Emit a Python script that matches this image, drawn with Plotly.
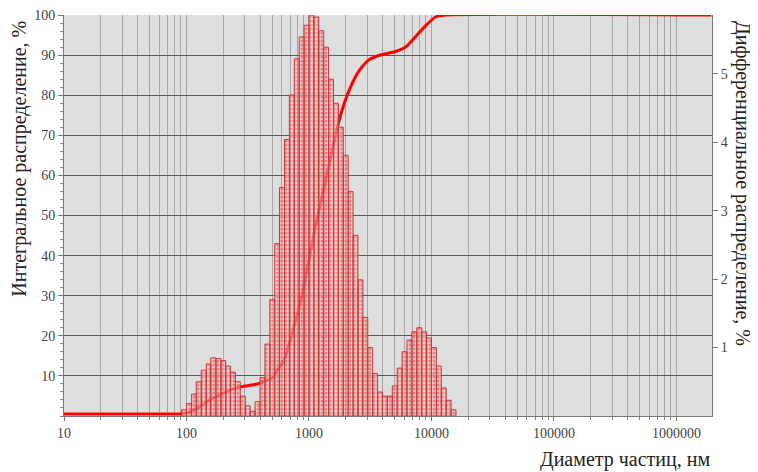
import plotly.graph_objects as go

# bin edges of the size histogram, nm
bin_edges = [91.2, 100, 110, 120, 132, 145, 158, 174, 191, 209, 229, 251, 275, 302, 331,
             363, 398, 437, 479, 525, 575, 631, 692, 759, 832, 912, 1000, 1096, 1202, 1318,
             1445, 1585, 1738, 1905, 2089, 2291, 2512, 2754, 3020, 3311, 3631, 3981, 4365,
             4786, 5248, 5754, 6310, 6918, 7586, 8318, 9120, 10000, 10965, 12023, 13183,
             14454, 15849]
# differential distribution per bin, %
diff_pct = [0.09, 0.18, 0.32, 0.50, 0.67, 0.76, 0.85, 0.84, 0.81, 0.73, 0.64, 0.50, 0.29,
            0.15, 0.07, 0.21, 0.56, 1.05, 1.70, 2.52, 3.34, 4.04, 4.69, 5.22, 5.54, 5.71,
            5.86, 5.83, 5.63, 5.39, 4.92, 4.57, 4.22, 3.81, 3.28, 2.64, 1.99, 1.44, 1.00,
            0.62, 0.35, 0.29, 0.29, 0.44, 0.70, 0.94, 1.11, 1.23, 1.29, 1.23, 1.14, 1.00,
            0.73, 0.41, 0.23, 0.09]
# integral (cumulative) curve
cum_d = [10, 72, 88, 106, 128, 154, 185, 224, 270, 325, 392, 447, 509, 540, 627, 728, 861,
         1000, 1161, 1374, 1754, 2113, 2553, 3076, 3707, 5093, 6152, 7413, 8933, 10789,
         13002, 1930000]
cum_pct = [0.5, 0.5, 0.5, 1.0, 2.3, 4.0, 5.2, 6.4, 7.2, 7.6, 8.1, 8.9, 9.6, 11, 14, 20.5,
           29, 39, 49, 59, 73.5, 81, 86, 88.8, 89.9, 90.9, 92, 94.6, 97.3, 99.5, 100, 100]

x_ticks = [10, 100, 1000, 10000, 100000, 1000000]
y_ticks = [10, 20, 30, 40, 50, 60, 70, 80, 90, 100]
y2_ticks = [1, 2, 3, 4, 5]

FONT = "Liberation Serif, Times New Roman, Tinos, DejaVu Serif, serif"
minor_x = [k * 10 ** d for d in range(1, 7) for k in range(2, 10)]

# bars as closed polygons so each one gets its own outline
bx, by = [], []
for i, h in enumerate(diff_pct):
    l, r = bin_edges[i], bin_edges[i + 1]
    bx += [l, l, r, r, l, None]
    by += [0, h, h, 0, 0, None]

fig = go.Figure()
fig.add_trace(go.Scatter(
    x=bx, y=by, yaxis="y2", mode="lines", fill="toself",
    line=dict(color="#c23a3a", width=1),
    fillcolor="rgba(240,150,150,0.35)",
    fillpattern=dict(shape=".", size=4, solidity=0.5,
                     fgcolor="rgba(205,30,30,0.8)", bgcolor="rgba(250,185,185,0.6)"),
    showlegend=False, hoverinfo="skip"))
fig.add_trace(go.Scatter(
    x=cum_d, y=cum_pct, mode="lines", line=dict(color="#ff0000", width=3, shape="spline",
                                               smoothing=0.6),
    showlegend=False))

# the page body adds an 8px offset, so the figure is 8px smaller than the window
fig.update_layout(
    width=750, height=464,
    margin=dict(l=56, r=46, t=7, b=56, autoexpand=False),
    paper_bgcolor="white", plot_bgcolor="#dedede",
    font=dict(family=FONT, size=14, color="#444"),
    xaxis=dict(type="log", range=[1, 6.29], tickvals=x_ticks,
               ticktext=[str(v) for v in x_ticks], ticklabeloverflow="allow",
               showgrid=True, gridcolor="#a6a6a6", gridwidth=1,
               ticks="outside", ticklen=4, tickcolor="#777",
               minor=dict(tickvals=minor_x, showgrid=True, gridcolor="#a6a6a6",
                          ticks="outside", ticklen=3, tickcolor="#888"),
               showline=True, linecolor="#777", zeroline=False),
    yaxis=dict(range=[0, 100], tickvals=y_ticks, showgrid=True, gridcolor="#5a5a5a",
               gridwidth=1, ticks="outside", ticklen=5, tickcolor="#777",
               ticklabeloverflow="allow",
               minor=dict(dtick=2, ticks="outside", ticklen=3, tickcolor="#888"),
               showline=True, linecolor="#777", zeroline=False),
    yaxis2=dict(range=[0, 5.86], overlaying="y", side="right", tickvals=y2_ticks,
                showgrid=False, ticks="outside", ticklen=5, tickcolor="#777",
                showline=True, linecolor="#777", zeroline=False),
    annotations=[
        dict(text="Интегральное распределение, %", textangle=-90, xref="paper", yref="paper",
             x=-0.07, y=0.99, xanchor="center", yanchor="top", showarrow=False,
             font=dict(family=FONT, size=20, color="#222")),
        dict(text="Дифференциальное распределение, %", textangle=90, xref="paper",
             yref="paper", x=1.047, y=0.99, xanchor="center", yanchor="top",
             showarrow=False, font=dict(family=FONT, size=20, color="#222")),
        dict(text="Диаметр частиц, нм", xref="paper", yref="paper", x=1.0, y=-0.108,
             xanchor="right", yanchor="middle", showarrow=False,
             font=dict(family=FONT, size=20, color="#222")),
    ],
)

fig.write_html("out.html")
